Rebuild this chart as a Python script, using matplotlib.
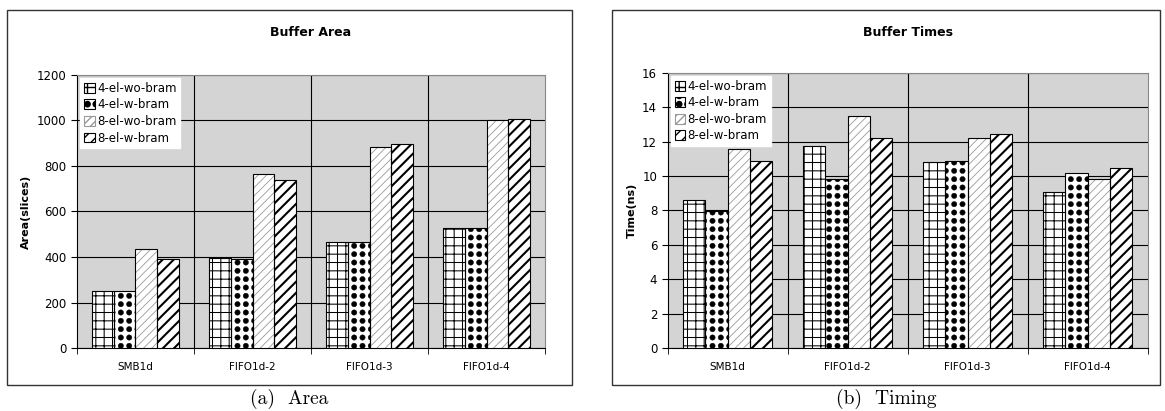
import numpy as np
import matplotlib.pyplot as plt
import matplotlib.hatch as mhatch
from matplotlib.path import Path
from matplotlib.patches import Rectangle, Patch

cats = ['SMB1d', 'FIFO1d-2', 'FIFO1d-3', 'FIFO1d-4']
series = ['4-el-wo-bram', '4-el-w-bram', '8-el-wo-bram', '8-el-w-bram']
area_4wo = [250, 395, 465, 527]
area_4w = [250, 390, 465, 527]
area_8wo = [435, 765, 882, 1003]
area_8w = [390, 740, 895, 1007]
time_4wo = [8.6, 11.75, 10.8, 9.1]
time_4w = [7.95, 9.8, 10.9, 10.15]
time_8wo = [11.55, 13.5, 12.2, 9.85]
time_8w = [10.85, 12.2, 12.45, 10.45]

# hatch, hatch colour, hatch width for each series
styles = [('++', 'black', 0.75), ('..', 'black', 0.3),
          ('////', '#999999', 0.6), ('///', 'black', 1.5)]


# '.' as a square grid of solid dots (excel style) instead of staggered ones
class GridDots(mhatch.HatchPatternBase):
    def __init__(self, hatch, density):
        self.n = hatch.count('.') * density
        circ = Path.unit_circle()
        self.cv = circ.vertices
        self.cc = circ.codes
        self.num_vertices = self.n * self.n * len(self.cv)

    def set_vertices_and_codes(self, vertices, codes):
        off = 1.0 / self.n
        r = 0.32 * off
        L = len(self.cv)
        k = 0
        for i in range(self.n):
            for j in range(self.n):
                vertices[k:k + L] = self.cv * r + [(i + 0.5) * off, (j + 0.5) * off]
                codes[k:k + L] = self.cc
                k += L


mhatch._hatch_types = [GridDots if t is mhatch.SmallFilledCircles else t
                       for t in mhatch._hatch_types]

plt.rcParams['font.family'] = 'DejaVu Sans'

def hatched(p, lw):
    if hasattr(p, 'set_hatch_linewidth'):
        p.set_hatch_linewidth(lw)

def draw_panel(fig, box, axrect, vals, ymax, ystep, ylabel, title, caption):
    # outer frame
    fig.add_artist(Rectangle((box[0], box[1]), box[2], box[3], transform=fig.transFigure,
                             fill=False, edgecolor='#333333', lw=1.0))
    ax = fig.add_axes(axrect)
    ax.set_facecolor('#d4d4d4')
    x = np.arange(len(cats))
    w = 0.185
    for i, v in enumerate(vals):
        h, hc, hl = styles[i]
        xs = x + (i - 1.5) * w
        with plt.rc_context({'hatch.linewidth': hl}):
            bars = ax.bar(xs, v, width=w, color='white', edgecolor=hc, hatch=h, lw=0, zorder=3)
        for p in bars:
            hatched(p, hl)
        ax.bar(xs, v, width=w, fill=False, edgecolor='black', lw=0.8, zorder=4)
    ax.set_xlim(-0.5, len(cats) - 0.5)
    ax.set_ylim(0, ymax)
    ax.set_yticks(np.arange(0, ymax + 1, ystep))
    ax.yaxis.grid(True, color='black', lw=0.8, zorder=1)
    for b in np.arange(0.5, len(cats) - 0.5, 1.0):
        ax.axvline(b, color='black', lw=0.8, zorder=1)
    ax.set_xticks(x)
    ax.set_xticklabels(cats, fontsize=7.5)
    ax.set_xticks(np.arange(-0.5, len(cats), 1.0), minor=True)
    ax.tick_params(axis='x', which='major', length=0, pad=10)
    ax.tick_params(axis='x', which='minor', length=4, direction='out')
    ax.tick_params(axis='y', labelsize=8.5, length=4, direction='out')
    for s in ['top', 'right']:
        ax.spines[s].set_color('#888888')
        ax.spines[s].set_linewidth(0.8)
    for s in ['left', 'bottom']:
        ax.spines[s].set_color('black')
    ax.set_ylabel(ylabel, fontsize=8, fontweight='bold')
    fig.text(axrect[0] + axrect[2] / 2, box[1] + box[3] - 0.055, title,
             ha='center', va='center', fontsize=9, fontweight='bold')
    fig.text(box[0] + box[2] / 2, 0.03, caption, ha='center', va='center',
             fontsize=14, family='cmr10')
    handles = []
    for i in range(4):
        with plt.rc_context({'hatch.linewidth': styles[i][2]}):
            hp = Patch(facecolor='white', edgecolor=styles[i][1], hatch=styles[i][0], lw=0.8)
        hatched(hp, styles[i][2])
        handles.append(hp)
    leg = ax.legend(handles, series, loc='upper left', fontsize=8.5, frameon=True,
                    fancybox=False, edgecolor='white', framealpha=1,
                    handlelength=0.9, handleheight=0.9, handletextpad=0.2,
                    labelspacing=0.3, borderaxespad=0.3, borderpad=0.3)
    leg.set_zorder(5)
    return ax

fig = plt.figure(figsize=(11.65, 4.11), dpi=100)
draw_panel(fig, (0.006, 0.063, 0.485, 0.913), (0.066, 0.153, 0.402, 0.665),
           [area_4wo, area_4w, area_8wo, area_8w], 1200, 200, 'Area(slices)',
           'Buffer Area', '(a)  Area')
draw_panel(fig, (0.525, 0.063, 0.471, 0.913), (0.573, 0.153, 0.412, 0.670),
           [time_4wo, time_4w, time_8wo, time_8w], 16, 2, 'Time(ns)',
           'Buffer Times', '(b)  Timing')
fig.savefig('out.png', dpi=100)
